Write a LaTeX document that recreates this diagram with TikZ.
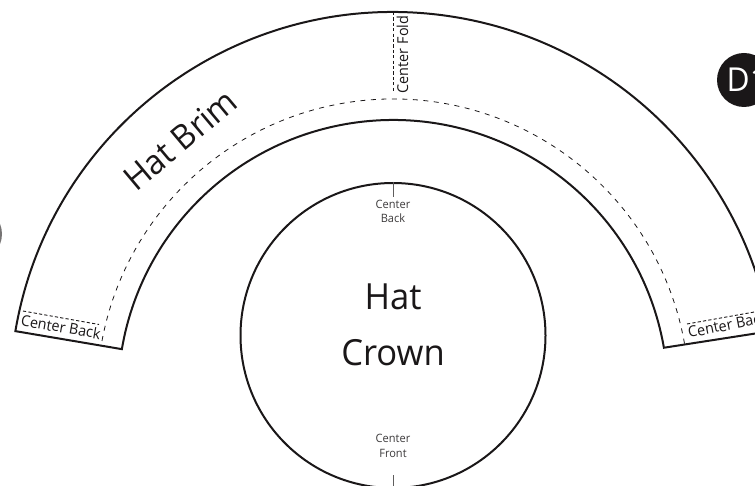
\documentclass[tikz,border=0pt]{standalone}
\usepackage{fontspec}
\usetikzlibrary{calc}
\setmainfont[FakeStretch=0.96]{Open Sans}
\definecolor{ink}{HTML}{1A1718}
\tikzset{
  cutline/.style={draw=ink,line width=2pt},
  seam/.style={draw=ink,line width=0.8pt,dash pattern=on 5pt off 5.5pt},
  fold/.style={draw=ink,line width=0.9pt,dash pattern=on 3.2pt off 2.2pt},
  tick/.style={draw=ink!70,line width=1pt},
  bigtext/.style={text=ink,font=\fontsize{36}{54}\selectfont,align=center,inner sep=0pt},
  brimlabel/.style={text=ink,font=\fontsize{15}{18}\selectfont,inner sep=0pt},
  smalltext/.style={text=ink!85,font=\fontsize{11.5}{14.5}\selectfont,align=center,inner sep=0pt}
}
\begin{document}
\begin{tikzpicture}[x=1pt,y=1pt]
\useasboundingbox (0,0) rectangle (755,485);
\clip (0,0) rectangle (755,485);
\coordinate (c) at (393,90);
% brim outline
\draw[cutline,line join=miter] (c) ++(170.4:383) arc[start angle=170.4,end angle=9.6,radius=383pt]
  -- ($(c)+(9.9:275)$) arc[start angle=9.9,end angle=170.4,radius=275pt] -- cycle;
% seam
\draw[seam] (c) ++(10:296) arc[start angle=10,end angle=170,radius=296pt];
\coordinate (lbA) at (23,174);
\coordinate (lbB) at (99,160.5);
\coordinate (rbA) at (687,161);
\coordinate (rbB) at (760,174);
\draw[fold] (lbA) -- (lbB);
\draw[fold] (rbA) -- (rbB);
\coordinate (foldTop) at (393,473);
\coordinate (foldBot) at (393,393);
\draw[fold] (foldTop) -- (foldBot);
% crown
\node[circle,draw=ink,line width=2pt,minimum size=305pt,inner sep=0pt] (crown) at (393,149.5) {};
\coordinate (tickTopEnd) at (393,288);
\coordinate (tickBotEnd) at (393,10);
\draw[tick] (crown.north) -- (tickTopEnd);
\draw[tick] (crown.south) -- (tickBotEnd);
% labels
\node[bigtext,anchor=base] (hat) at (393,175) {Hat};
\node[bigtext,anchor=base] (crownlabel) at (393,120) {Crown};
\node[bigtext,anchor=base,font=\fontsize{34}{40}\selectfont,rotate=40] (brim) at (188,336) {Hat Brim};
\node[brimlabel,anchor=base,rotate=-10] (cbl) at (60,152.5) {Center Back};
\node[brimlabel,anchor=base west,rotate=11] (cbr) at (689,147) {Center Back};
\node[brimlabel,anchor=base,rotate=90] (cf) at (408,430.5) {Center Fold};
\node[smalltext,anchor=base] (cb1) at (393,276) {Center};
\node[smalltext,anchor=base] (cb2) at (393,262) {Back};
\node[smalltext,anchor=base] (cf1) at (393,43) {Center};
\node[smalltext,anchor=base] (cf2) at (393,28) {Front};
% sheet badges
\node[circle,fill=ink,minimum size=54pt,inner sep=0pt] (badge) at (744,405) {};
\node[anchor=base west,text=white,font=\fontsize{33}{33}\selectfont,inner sep=0pt] (badgetext) at (726.5,393) {D1};
\node[circle,fill=ink!60,minimum size=54pt,inner sep=0pt] (badgeleft) at (-25,251) {};
\end{tikzpicture}
\end{document}
